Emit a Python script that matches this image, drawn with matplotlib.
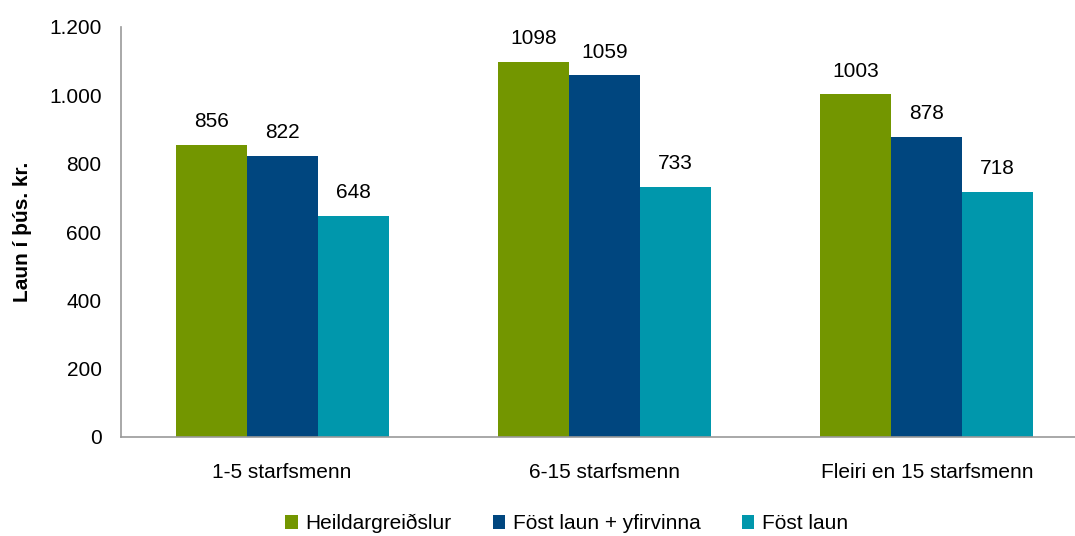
import numpy as np
import matplotlib
matplotlib.use('Agg')
import matplotlib.pyplot as plt

plt.rcParams['font.family'] = ['Liberation Sans', 'DejaVu Sans']

categories = ['1-5 starfsmenn', '6-15 starfsmenn', 'Fleiri en 15 starfsmenn']
series_names = ['Heildargreiðslur', 'Föst laun + yfirvinna', 'Föst laun']
heild = [856, 1098, 1003]
fost_yfir = [822, 1059, 878]
fost = [648, 733, 718]
colors = ['#739600', '#00467f', '#0097ac']

fig = plt.figure(figsize=(10.75, 5.36), dpi=100)
ax = fig.add_axes([121 / 1075, 1 - 437 / 536, 967 / 1075, 410 / 536])

x = np.arange(len(categories))
w = 0.22
for i, (vals, name, c) in enumerate(zip([heild, fost_yfir, fost], series_names, colors)):
    bars = ax.bar(x + (i - 1) * w, vals, w, color=c, label=name)
    for b, v in zip(bars, vals):
        ax.text(b.get_x() + b.get_width() / 2, v + 40, str(v), ha='center', va='bottom', fontsize=15)

ax.set_xlim(-0.5, 2.5)
ax.set_ylim(0, 1200)
ax.set_yticks(range(0, 1201, 200))
ax.set_yticklabels(['0', '200', '400', '600', '800', '1.000', '1.200'])
ax.set_xticks(x)
ax.set_xticklabels(categories)
ax.tick_params(axis='both', length=0, labelsize=15)
ax.tick_params(axis='y', pad=14)
ax.tick_params(axis='x', pad=19)
for s in ['top', 'right']:
    ax.spines[s].set_visible(False)
for s in ['left', 'bottom']:
    ax.spines[s].set_color('#999999')
    ax.spines[s].set_linewidth(1.2)
ax.set_ylabel('Laun í þús. kr.', fontsize=15, fontweight='bold', labelpad=12)

fig.legend(loc='lower center', bbox_to_anchor=(0.527, -0.03), ncol=3, frameon=False, fontsize=15,
           handlelength=0.6, handleheight=0.6, handletextpad=0.35, columnspacing=2.0)

fig.savefig('out.png', dpi=100)
